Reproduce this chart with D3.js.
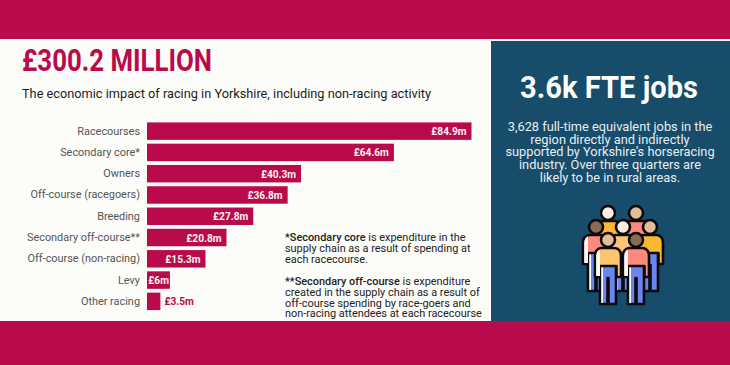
<!DOCTYPE html>
<html>
<head>
<meta charset="utf-8">
<script src="https://cdn.jsdelivr.net/npm/d3@7"></script>
<style>
    html, body { margin: 0; padding: 0; background: #fff; overflow: hidden; }
    svg { display: block; font-family: Roboto, sans-serif; }
</style>
</head>
<body>
<div id="chart"></div>
<script>
const categories = ["Racecourses", "Secondary core*", "Owners", "Off-course (racegoers)", "Breeding",
    "Secondary off-course**", "Off-course (non-racing)", "Levy", "Other racing"];
const values = [84.9, 64.6, 40.3, 36.8, 27.8, 20.8, 15.3, 6, 3.5];
const valueLabels = ["£84.9m", "£64.6m", "£40.3m", "£36.8m", "£27.8m", "£20.8m", "£15.3m", "£6m", "£3.5m"];

const note1 = [["*Secondary core", " is expenditure in the"], ["", "supply chain as a result of spending at"], ["", "each racecourse."]];
const note2 = [["**Secondary off-course", " is expenditure"], ["", "created in the supply chain as a result of"], ["", "off-course spending by race-goers and"], ["", "non-racing attendees at each racecourse"]];
const jobsText = ["3,628 full-time equivalent jobs in the", "region directly and indirectly", "supported by Yorkshire’s horseracing", "industry. Over three quarters are", "likely to be in rural areas."];

const crimson = "#b90a4b", navy = "#174c6b";

const svg = d3.select("#chart").append("svg")
    .attr("width", 730)
    .attr("height", 365);

// background bands and panels
svg.append("rect").attr("width", 730).attr("height", 365).attr("fill", "#fff");
svg.append("rect").attr("width", 730).attr("height", 39).attr("fill", crimson);
svg.append("rect").attr("y", 321).attr("width", 730).attr("height", 44).attr("fill", crimson);
svg.append("rect").attr("y", 40).attr("width", 490).attr("height", 281).attr("fill", "#fcfcf9");
svg.append("rect").attr("x", 491).attr("y", 41).attr("width", 239).attr("height", 280).attr("fill", navy);

// no condensed Roboto on the box, so squeeze the bold text
function squeeze(sel, k) {
    sel.each(function () {
        d3.select(this)
            .attr("textLength", this.getComputedTextLength() * k)
            .attr("lengthAdjust", "spacingAndGlyphs");
    });
}

svg.append("text")
    .attr("x", 22).attr("y", 71)
    .attr("fill", crimson)
    .style("font-size", "31px")
    .style("font-weight", 700)
    .attr("textLength", 190)
    .attr("lengthAdjust", "spacingAndGlyphs")
    .text("£300.2 MILLION");

svg.append("text")
    .attr("x", 22).attr("y", 98)
    .attr("fill", "#1c1c1c")
    .style("font-size", "12.75px")
    .text("The economic impact of racing in Yorkshire, including non-racing activity");

// bars
const x = d3.scaleLinear().domain([0, 84.9]).range([147, 471.5]);
const y = d3.scaleBand().domain(categories).range([120.5, 312]).paddingInner(0.18).paddingOuter(0.09);

const yAxis = svg.append("g")
    .attr("transform", "translate(147,0)")
    .call(d3.axisLeft(y).tickSize(0).tickPadding(7));
yAxis.select(".domain").remove();
yAxis.selectAll("text")
    .attr("fill", "#555")
    .style("font-family", "Roboto, sans-serif")
    .style("font-size", "10.9px");

svg.selectAll("rect.bar")
    .data(categories)
    .join("rect")
    .attr("class", "bar")
    .attr("x", x(0))
    .attr("y", d => y(d))
    .attr("width", (d, i) => x(values[i]) - x(0))
    .attr("height", y.bandwidth())
    .attr("fill", crimson);

// value labels, the smallest bar has its label outside
svg.selectAll("text.val")
    .data(categories)
    .join("text")
    .attr("class", "val")
    .attr("x", (d, i) => i === 8 ? x(values[i]) + 4 : i === 7 ? x(values[i]) - 1 : x(values[i]) - 5)
    .attr("y", d => y(d) + y.bandwidth() / 2)
    .attr("dy", ".35em")
    .attr("text-anchor", (d, i) => i === 8 ? "start" : "end")
    .attr("fill", (d, i) => i === 8 ? crimson : "#fbf3f0")
    .style("font-size", "11.5px")
    .style("font-weight", 700)
    .text((d, i) => valueLabels[i])
    .call(squeeze, 0.88);

// footnotes
function drawNote(lines, top) {
    lines.forEach((parts, i) => {
        const t = svg.append("text")
            .attr("x", 285)
            .attr("y", top + i * 10.9)
            .attr("fill", "#222")
            .style("font-size", "10.9px");
        if (parts[0]) t.append("tspan").style("font-weight", 500).text(parts[0]);
        t.append("tspan").text(parts[1]);
    });
}
drawNote(note1, 241);
drawNote(note2, 284.7);

// right panel
svg.append("text")
    .attr("x", 609).attr("y", 98)
    .attr("text-anchor", "middle")
    .attr("fill", "#fbfbf8")
    .style("font-size", "31px")
    .style("font-weight", 700)
    .attr("textLength", 178)
    .attr("lengthAdjust", "spacingAndGlyphs")
    .text("3.6k FTE jobs");

svg.selectAll("text.jobs")
    .data(jobsText)
    .join("text")
    .attr("class", "jobs")
    .attr("x", 610)
    .attr("y", (d, i) => 131 + i * 12.7)
    .attr("text-anchor", "middle")
    .attr("fill", "#e6edf0")
    .style("font-size", "12.8px")
    .text(d => d);

// people icon
const people = [
    { hx: 608, hy: 213, shirt: "#fbb731", skin: "#fbeee0" },
    { hx: 636, hy: 213, shirt: "#fe8a7f", skin: "#e2bd98" },
    { hx: 596, hy: 227, shirt: "#fe8a7f", skin: "#8a6a58" },
    { hx: 650, hy: 227, shirt: "#fbb731", skin: "#e2bd98" },
    { hx: 623, hy: 227, shirt: "#fdc573", skin: "#fbeee0" },
    { hx: 608, hy: 240, shirt: "#fdc573", skin: "#e2bd98" },
    { hx: 636, hy: 240, shirt: "#fe8a7f", skin: "#8a6a58" }
];

function drawPerson(p) {
    const g = svg.append("g")
        .attr("transform", `translate(${p.hx},${p.hy})`)
        .attr("stroke", "#0b0b0b")
        .attr("stroke-width", 2.6)
        .attr("stroke-linejoin", "round");
    // legs
    g.append("path")
        .attr("d", "M-8,24 L-8,64 L-0.5,64 L-0.5,38 L0.5,38 L0.5,64 L8,64 L8,24 Z")
        .attr("fill", "#6a84f0");
    g.append("path")
        .attr("d", "M-6.7,26 L-6.7,63 L-5,63 L-5,26 Z")
        .attr("fill", "#fbfbfb")
        .attr("stroke", "none");
    // torso and arms
    g.append("path")
        .attr("d", "M-7,8 L7,8 Q13,9 13,16 L13,37 L8.5,37 L8.5,26 L-8.5,26 L-8.5,37 L-13,37 L-13,16 Q-13,9 -7,8 Z")
        .attr("fill", p.shirt);
    g.append("path")
        .attr("d", "M-11.7,16 Q-11.5,11 -8,9.5 L-8,36 L-11.7,36 Z")
        .attr("fill", "#fbfbfb")
        .attr("stroke", "none");
    g.append("circle")
        .attr("r", 7)
        .attr("fill", p.skin);
}
people.forEach(drawPerson);
</script>
</body>
</html>
